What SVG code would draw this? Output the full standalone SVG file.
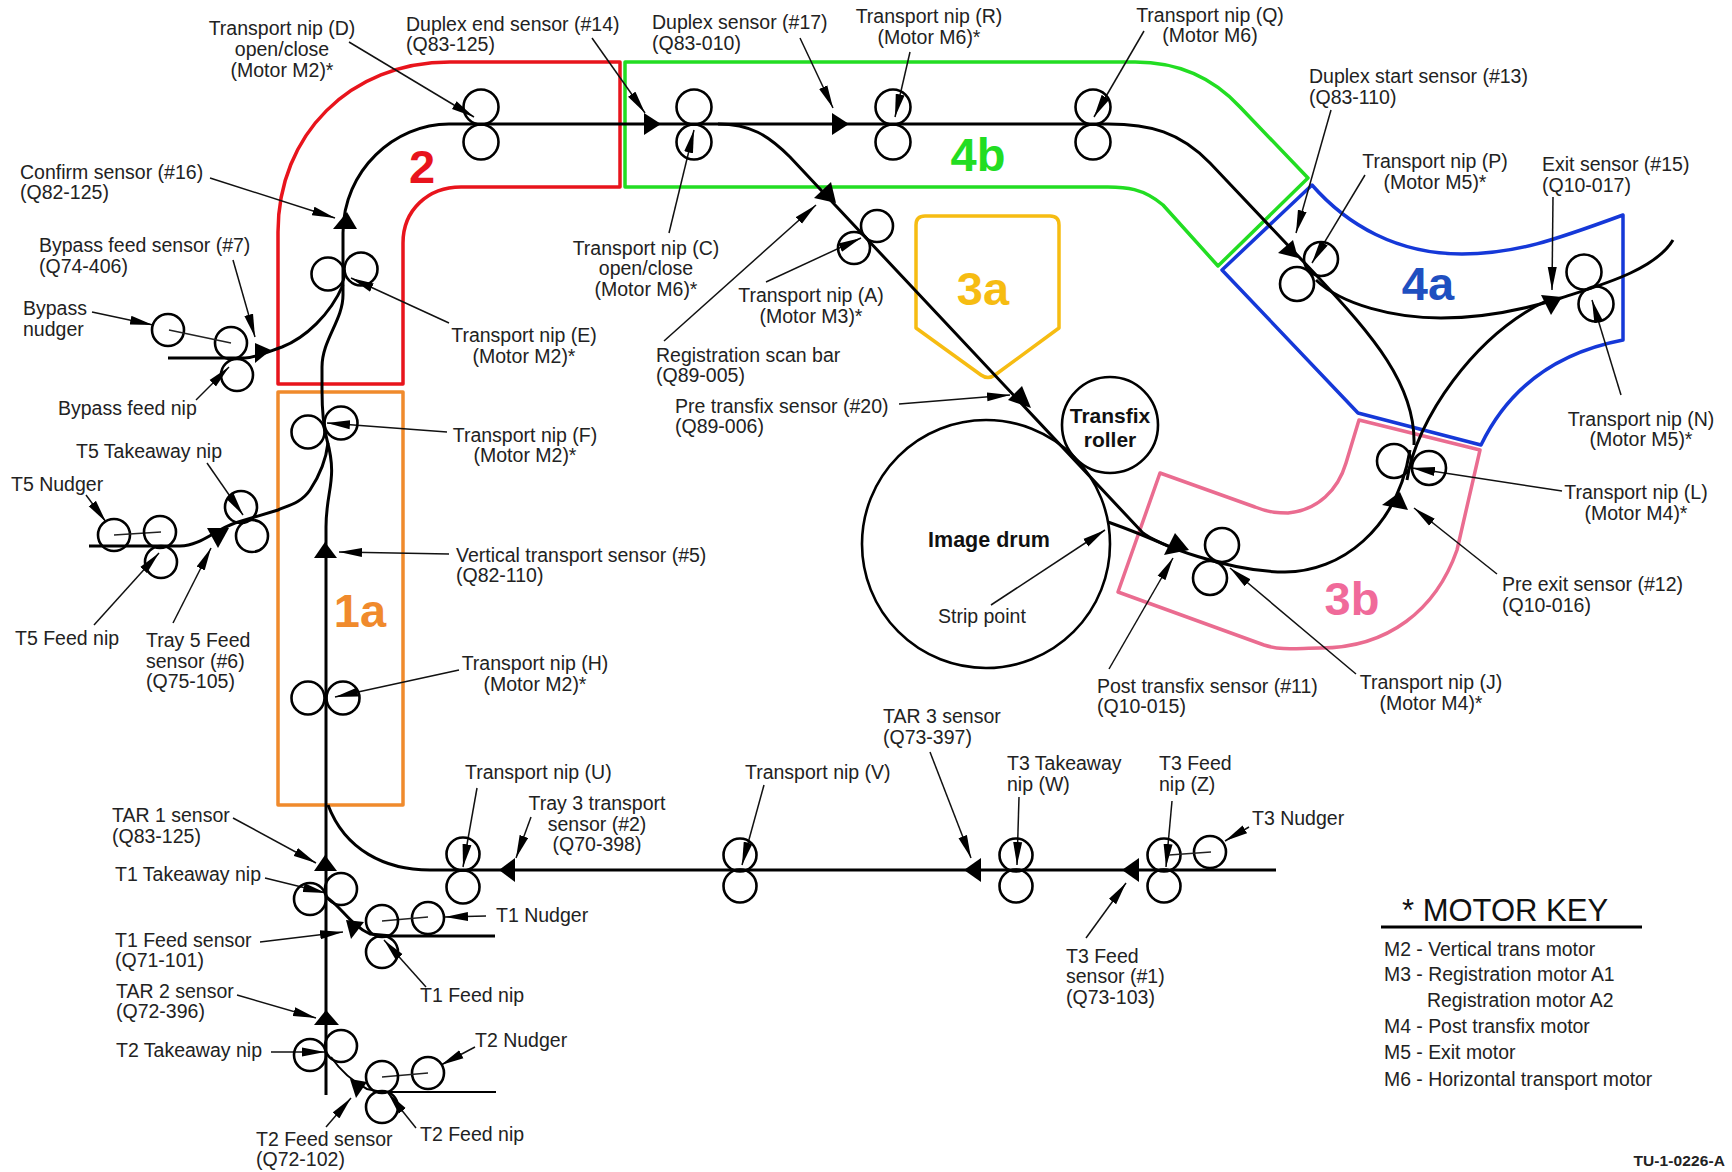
<svg xmlns="http://www.w3.org/2000/svg" width="1732" height="1172" viewBox="0 0 1732 1172">
<style>
text{font-family:"Liberation Sans",Arial,sans-serif;font-size:19.5px;fill:#222}
.m{text-anchor:middle}
.b{font-weight:bold;fill:#111;font-size:21px}
.big{font-weight:bold;font-size:47px}
.zone{fill:none;stroke-width:3.5;stroke-linejoin:round}
.paper{fill:none;stroke:#000;stroke-width:3}
.tri{fill:#000;stroke:none}
.lead{fill:none;stroke:#111;stroke-width:1.5;marker-end:url(#wedge)}
.thin{fill:none;stroke:#222;stroke-width:1.5}
circle{fill:none;stroke:#000;stroke-width:2.6}
</style>
<defs>
<marker id="wedge" markerUnits="userSpaceOnUse" markerWidth="24" markerHeight="10" refX="23" refY="5" orient="auto"><path d="M0,0.5 L23,5 L0,9.5 Z" fill="#000"/></marker>
</defs>
<rect width="1732" height="1172" fill="#fff"/>
<g id="zones">
<path id="zone-2" class="zone" stroke="#e8141c" d="M620,62 H450 C350,62 278,135 278,232 V384 H403 V243 C403,210 428,187 461,187 H620 Z"/>
<path id="zone-1a" class="zone" stroke="#f08a2c" d="M278,392 H403 V805 H278 Z"/>
<path id="zone-4b" class="zone" stroke="#22dd22" d="M625,62 H1135 C1180,62 1215,80 1240,107 L1308,178 L1218,266 L1163,205 C1143,188 1125,187 1108,187 H625 Z"/>
<path id="zone-4a" class="zone" stroke="#1538d8" d="M1312,185 C1347,225 1397,254 1462,254 C1515,254 1555,240 1623,215 V340 C1560,352 1510,385 1481,445 L1358,413 L1222,270 Z"/>
<path id="zone-3b" class="zone" stroke="#ea6c90" d="M1359,420 L1480,450 L1457,550 C1436,610 1388,648 1320,648 C1298,648 1282,651 1264,645 L1118,592 L1160,473 L1255,507 C1270,513 1280,513 1288,513 C1318,510 1338,490 1346,463 Z"/>
<path id="zone-3a" class="zone" stroke="#f6bc12" d="M925,216 H1050 Q1059,216 1059,225 V328 L995,375 Q988,380 981,375 L916,328 V225 Q916,216 925,216 Z"/>
<text class="big" x="422" y="183" text-anchor="middle" style="fill:#e8141c">2</text>
<text class="big" x="360" y="627" text-anchor="middle" style="fill:#f08a2c">1a</text>
<text class="big" x="978" y="171" text-anchor="middle" style="fill:#22dd22">4b</text>
<text class="big" x="983" y="305" text-anchor="middle" style="fill:#f6bc12">3a</text>
<text class="big" x="1428" y="300" text-anchor="middle" style="fill:#1f4fc0">4a</text>
<text class="big" x="1352" y="615" text-anchor="middle" style="fill:#f06a9a">3b</text>
</g>
<g id="connectors">
<path class="paper" d="M326,1095 V527 C326,490 338,480 327,440 C323,425 322,410 322,390 V367 C322,340 343,320 343,295 V233 C343,170 395,124 449,124 H1108 C1150,124 1180,132 1210,163 L1318,277 C1372,335 1416,385 1414,445"/>
<path class="paper" d="M718,124 C750,124 768,135 790,157 L1142,532 C1155,544 1230,572 1285,572 C1340,572 1397,530 1410,450"/>
<path class="paper" d="M1108,522 C1125,528 1150,538 1170,547"/>
<path class="paper" d="M168,358 H245 C255,358 265,353 282,347 C305,338 330,315 343,285"/>
<path class="paper" d="M89,546 H180 C200,546 215,530 235,523 L278,510 C290,505 302,502 310,490 C320,475 326,460 328,443"/>
<path class="paper" d="M1276,870 H430 C385,870 345,850 328,805"/>
<path class="paper" d="M495,936 H392 L370,934 C350,925 340,905 326,897"/>
<path class="paper" style="stroke-width:2" d="M496,1092 H382 L367,1089 C350,1080 340,1070 331,1057"/>
<path class="paper" d="M1316,280 C1342,305 1395,318 1441,318 C1484,318 1523,310 1561,298 C1601,285 1655,270 1673,240"/>
<path class="paper" d="M1407,480 C1416,420 1474,335 1548,300"/>
<polygon class="tri" points="347,212 333,229 357,229"/>
<polygon class="tri" points="661,124 644,113 644,135"/>
<polygon class="tri" points="849,124 832,113 832,135"/>
<polygon class="tri" points="831,182 814,198 836,203"/>
<polygon class="tri" points="1022,386 1008,400 1031,408"/>
<polygon class="tri" points="1175,533 1164,555 1189,550"/>
<polygon class="tri" points="1400,492 1382,505 1408,510"/>
<polygon class="tri" points="1562,297 1541,295 1551,315"/>
<polygon class="tri" points="1298,258 1278,253 1293,240"/>
<polygon class="tri" points="325,542 314,558 337,558"/>
<polygon class="tri" points="229,528 207,528 218,548"/>
<polygon class="tri" points="325,855 314,871 337,871"/>
<polygon class="tri" points="364,922 346,920 351,939"/>
<polygon class="tri" points="326,1010 314,1025 339,1025"/>
<polygon class="tri" points="367,1082 350,1079 356,1098"/>
<polygon class="tri" points="499,870 515,858 515,882"/>
<polygon class="tri" points="964,870 981,858 981,882"/>
<polygon class="tri" points="1122,870 1139,858 1139,882"/>
<polygon class="tri" points="271,350 255,343 255,363"/>
<path class="lead" d="M349,42 L474,117"/>
<path class="lead" d="M592,38 L645,113"/>
<path class="lead" d="M210,178 L335,218"/>
<path class="lead" d="M233,260 L255,337"/>
<path class="lead" d="M92,312 L153,325"/>
<path class="lead" d="M196,400 L229,367"/>
<path class="lead" d="M449,323 L351,278"/>
<path class="lead" d="M447,432 L327,423"/>
<path class="lead" d="M207,463 L243,515"/>
<path class="lead" d="M86,495 L106,522"/>
<path class="lead" d="M94,625 L159,553"/>
<path class="lead" d="M173,623 L211,548"/>
<path class="lead" d="M449,554 L339,552"/>
<path class="lead" d="M459,670 L335,697"/>
<path class="lead" d="M477,788 L463,867"/>
<path class="lead" d="M531,817 L516,858"/>
<path class="lead" d="M233,818 L316,863"/>
<path class="lead" d="M265,878 L326,893"/>
<path class="lead" d="M486,916 L445,917"/>
<path class="lead" d="M260,942 L343,932"/>
<path class="lead" d="M426,987 L384,940"/>
<path class="lead" d="M237,995 L316,1018"/>
<path class="lead" d="M271,1052 L325,1052"/>
<path class="lead" d="M475,1047 L441,1065"/>
<path class="lead" d="M326,1127 L351,1098"/>
<path class="lead" d="M416,1128 L388,1093"/>
<path class="lead" d="M669,233 L694,130"/>
<path class="lead" d="M800,38 L833,108"/>
<path class="lead" d="M910,52 L895,117"/>
<path class="lead" d="M1144,31 L1094,117"/>
<path class="lead" d="M766,282 L861,238"/>
<path class="lead" d="M664,341 L816,205"/>
<path class="lead" d="M899,404 L1010,395"/>
<path class="lead" d="M1331,110 L1296,233"/>
<path class="lead" d="M1365,175 L1312,263"/>
<path class="lead" d="M1553,197 L1552,290"/>
<path class="lead" d="M1621,395 L1592,300"/>
<path class="lead" d="M1562,491 L1412,468"/>
<path class="lead" d="M1497,574 L1414,508"/>
<path class="lead" d="M1356,674 L1230,568"/>
<path class="lead" d="M1109,669 L1173,558"/>
<path class="lead" d="M991,605 L1105,530"/>
<path class="lead" d="M930,752 L971,858"/>
<path class="lead" d="M764,785 L742,865"/>
<path class="lead" d="M1019,797 L1017,865"/>
<path class="lead" d="M1172,801 L1166,867"/>
<path class="lead" d="M1249,827 L1225,841"/>
<path class="lead" d="M1086,938 L1126,883"/>
</g>
<g id="nip-d"><circle cx="481" cy="107" r="17.5"/><circle cx="481" cy="142" r="17.5"/><text class="m" x="282" y="35">Transport nip (D)</text><text class="m" x="282" y="56">open/close</text><text class="m" x="282" y="77">(Motor M2)*</text></g>
<g id="sensor-14"><text x="406" y="31">Duplex end sensor (#14)</text><text x="406" y="51">(Q83-125)</text></g>
<g id="sensor-16"><text x="20" y="179">Confirm sensor (#16)</text><text x="20" y="199">(Q82-125)</text></g>
<g id="sensor-7"><text x="39" y="252">Bypass feed sensor (#7)</text><text x="39" y="273">(Q74-406)</text></g>
<g id="bypass-nudger"><circle cx="168" cy="330" r="16"/><text x="23" y="315">Bypass</text><text x="23" y="336">nudger</text></g>
<g id="bypass-feed"><circle cx="231" cy="343" r="16"/><path class="thin" d="M169,330 L231,343"/></g>
<g id="bypass-feed-nip"><circle cx="237" cy="375" r="16"/><text x="58" y="415">Bypass feed nip</text></g>
<g id="nip-e"><circle cx="328" cy="274" r="16.5"/><circle cx="361" cy="269" r="16.5"/><text class="m" x="524" y="342">Transport nip (E)</text><text class="m" x="524" y="363">(Motor M2)*</text></g>
<g id="nip-f"><circle cx="308" cy="432" r="16.5"/><circle cx="341" cy="423" r="16.5"/><text class="m" x="525" y="442">Transport nip (F)</text><text class="m" x="525" y="462">(Motor M2)*</text></g>
<g id="nip-t5-takeaway"><circle cx="241" cy="507" r="16"/><circle cx="252" cy="536" r="16"/><text x="76" y="458">T5 Takeaway nip</text></g>
<g id="t5-nudger"><circle cx="114" cy="535" r="16"/><path class="thin" d="M114,535 L161,532"/><text x="11" y="491">T5 Nudger</text></g>
<g id="nip-t5-feed"><circle cx="160" cy="532" r="16"/><circle cx="161" cy="562" r="16"/><text x="15" y="645">T5 Feed nip</text></g>
<g id="sensor-6"><text x="146" y="647">Tray 5 Feed</text><text x="146" y="668">sensor (#6)</text><text x="146" y="688">(Q75-105)</text></g>
<g id="sensor-5"><text x="456" y="562">Vertical transport sensor (#5)</text><text x="456" y="582">(Q82-110)</text></g>
<g id="nip-h"><circle cx="308" cy="698" r="16.5"/><circle cx="343" cy="698" r="16.5"/><text class="m" x="535" y="670">Transport nip (H)</text><text class="m" x="535" y="691">(Motor M2)*</text></g>
<g id="nip-u"><circle cx="463" cy="854" r="16.5"/><circle cx="463" cy="887" r="16.5"/><text x="465" y="779">Transport nip (U)</text></g>
<g id="sensor-2"><text class="m" x="597" y="810">Tray 3 transport</text><text class="m" x="597" y="831">sensor (#2)</text><text class="m" x="597" y="851">(Q70-398)</text></g>
<g id="sensor-tar1"><text x="112" y="822">TAR 1 sensor</text><text x="112" y="843">(Q83-125)</text></g>
<g id="nip-t1-takeaway"><circle cx="310" cy="899" r="16"/><circle cx="341" cy="889" r="16"/><text x="115" y="881">T1 Takeaway nip</text></g>
<g id="sensor-t1-feed"><text x="115" y="947">T1 Feed sensor</text><text x="115" y="967">(Q71-101)</text></g>
<g id="t1-nudger"><circle cx="428" cy="918" r="16"/><path class="thin" d="M382,921 L428,917"/><text x="496" y="922">T1 Nudger</text></g>
<g id="nip-t1-feed"><circle cx="382" cy="921" r="16"/><circle cx="382" cy="952" r="16"/><text x="420" y="1002">T1 Feed nip</text></g>
<g id="sensor-tar2"><text x="116" y="998">TAR 2 sensor</text><text x="116" y="1018">(Q72-396)</text></g>
<g id="nip-t2-takeaway"><circle cx="310" cy="1055" r="16"/><circle cx="341" cy="1046" r="16"/><text x="116" y="1057">T2 Takeaway nip</text></g>
<g id="t2-nudger"><circle cx="428" cy="1073" r="16"/><path class="thin" d="M382,1077 L428,1073"/><text x="475" y="1047">T2 Nudger</text></g>
<g id="nip-t2-feed"><circle cx="382" cy="1077" r="16"/><circle cx="382" cy="1107" r="16"/><text x="420" y="1141">T2 Feed nip</text></g>
<g id="sensor-t2-feed"><text x="256" y="1146">T2 Feed sensor</text><text x="256" y="1166">(Q72-102)</text></g>
<g id="nip-c"><circle cx="694" cy="107" r="17.5"/><circle cx="694" cy="142" r="17.5"/><text class="m" x="646" y="255">Transport nip (C)</text><text class="m" x="646" y="275">open/close</text><text class="m" x="646" y="296">(Motor M6)*</text></g>
<g id="sensor-17"><text x="652" y="29">Duplex sensor (#17)</text><text x="652" y="50">(Q83-010)</text></g>
<g id="nip-r"><circle cx="893" cy="107" r="17.5"/><circle cx="893" cy="142" r="17.5"/><text class="m" x="929" y="23">Transport nip (R)</text><text class="m" x="929" y="44">(Motor M6)*</text></g>
<g id="nip-q"><circle cx="1093" cy="107" r="17.5"/><circle cx="1093" cy="142" r="17.5"/><text class="m" x="1210" y="22">Transport nip (Q)</text><text class="m" x="1210" y="42">(Motor M6)</text></g>
<g id="nip-a"><circle cx="877" cy="226" r="16"/><circle cx="854" cy="248" r="16"/><text class="m" x="811" y="302">Transport nip (A)</text><text class="m" x="811" y="323">(Motor M3)*</text></g>
<g id="scan-bar"><text x="656" y="362">Registration scan bar</text><text x="656" y="382">(Q89-005)</text></g>
<g id="sensor-20"><text x="675" y="413">Pre transfix sensor (#20)</text><text x="675" y="433">(Q89-006)</text></g>
<g id="transfix-roller"><circle cx="1110" cy="425" r="48"/><text class="m b" x="1110" y="423">Transfix</text><text class="m b" x="1110" y="447">roller</text></g>
<g id="image-drum"><circle cx="986" cy="544" r="124"/><text class="m b" x="989" y="547" style="font-size:21.5px">Image drum</text><text x="938" y="623">Strip point</text></g>
<g id="sensor-11"><text x="1097" y="693">Post transfix sensor (#11)</text><text x="1097" y="713">(Q10-015)</text></g>
<g id="nip-j"><circle cx="1222" cy="545" r="17"/><circle cx="1210" cy="578" r="17"/><text class="m" x="1431" y="689">Transport nip (J)</text><text class="m" x="1431" y="710">(Motor M4)*</text></g>
<g id="nip-p"><circle cx="1297" cy="284" r="17"/><circle cx="1321" cy="259" r="17"/><text class="m" x="1435" y="168">Transport nip (P)</text><text class="m" x="1435" y="189">(Motor M5)*</text></g>
<g id="sensor-13"><text x="1309" y="83">Duplex start sensor (#13)</text><text x="1309" y="104">(Q83-110)</text></g>
<g id="sensor-15"><text x="1542" y="171">Exit sensor (#15)</text><text x="1542" y="192">(Q10-017)</text></g>
<g id="nip-n"><circle cx="1584" cy="272" r="17.5"/><circle cx="1596" cy="304" r="17.5"/><text class="m" x="1641" y="426">Transport nip (N)</text><text class="m" x="1641" y="446">(Motor M5)*</text></g>
<g id="nip-l"><circle cx="1394" cy="461" r="17"/><circle cx="1429" cy="468" r="17"/><text class="m" x="1636" y="499">Transport nip (L)</text><text class="m" x="1636" y="520">(Motor M4)*</text></g>
<g id="sensor-12"><text x="1502" y="591">Pre exit sensor (#12)</text><text x="1502" y="612">(Q10-016)</text></g>
<g id="sensor-tar3"><text x="883" y="723">TAR 3 sensor</text><text x="883" y="744">(Q73-397)</text></g>
<g id="nip-v"><circle cx="740" cy="855" r="16.5"/><circle cx="740" cy="886" r="16.5"/><text x="745" y="779">Transport nip (V)</text></g>
<g id="nip-w"><circle cx="1016" cy="855" r="16.5"/><circle cx="1016" cy="886" r="16.5"/><text x="1007" y="770">T3 Takeaway</text><text x="1007" y="791">nip (W)</text></g>
<g id="nip-z"><circle cx="1164" cy="855" r="16.5"/><circle cx="1164" cy="886" r="16.5"/><text x="1159" y="770">T3 Feed</text><text x="1159" y="791">nip (Z)</text></g>
<g id="t3-nudger"><circle cx="1210" cy="852" r="16"/><path class="thin" d="M1169,855 L1211,852"/><text x="1252" y="825">T3 Nudger</text></g>
<g id="sensor-1"><text x="1066" y="963">T3 Feed</text><text x="1066" y="983">sensor (#1)</text><text x="1066" y="1004">(Q73-103)</text></g>
<g id="motor-key">
<text x="1402" y="921" style="font-size:31px;fill:#111">* MOTOR KEY</text>
<path d="M1381,927 H1642" stroke="#000" stroke-width="3"/>
<text x="1384" y="956" style="font-size:19.4px">M2 - Vertical trans motor</text>
<text x="1384" y="981" style="font-size:19.4px">M3 - Registration motor A1</text>
<text x="1427" y="1007" style="font-size:19.4px">Registration motor A2</text>
<text x="1384" y="1033" style="font-size:19.4px">M4 - Post transfix motor</text>
<text x="1384" y="1059" style="font-size:19.4px">M5 - Exit motor</text>
<text x="1384" y="1086" style="font-size:19.4px">M6 - Horizontal transport motor</text>
</g>
<text id="figure-id" x="1725" y="1166" text-anchor="end" style="font-size:15.5px;font-weight:bold;letter-spacing:0.1px">TU-1-0226-A</text>
</svg>
